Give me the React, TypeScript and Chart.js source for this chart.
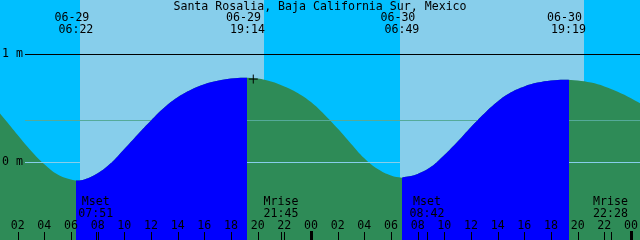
import React, { useEffect, useRef } from 'react';
import { Chart, registerables } from 'chart.js';

Chart.register(...registerables);

const chartTitle = 'Santa Rosalia, Baja California Sur, Mexico';

// tide height (m) at hour from 06-29 00:00
const tideHours = [
  0, 1, 2, 3, 4, 5, 6, 6.5, 7, 8, 9, 10, 11, 12, 13, 14, 15, 16, 17, 18, 19, 20, 21, 22, 23, 24,
  25, 26, 27, 28, 29, 30, 30.8, 31, 32, 33, 34, 35, 36, 37, 38, 39, 40, 41, 42, 43, 44, 45, 46, 47, 48, 49,
];
const tideHeights = [
  0.55, 0.40, 0.25, 0.105, -0.02, -0.115, -0.163, -0.172, -0.163, -0.105, -0.01, 0.12, 0.255, 0.385,
  0.505, 0.60, 0.67, 0.72, 0.752, 0.772, 0.78, 0.772, 0.745, 0.70, 0.64, 0.555,
  0.44, 0.31, 0.17, 0.035, -0.065, -0.125, -0.145, -0.14, -0.11, -0.045, 0.065, 0.19, 0.325, 0.45,
  0.56, 0.645, 0.70, 0.735, 0.755, 0.762, 0.755, 0.735, 0.70, 0.65, 0.59, 0.52,
];

const sunEventHours = [6.367, 19.233, 30.817, 43.317];
const sunEventDates = ['06-29', '06-29', '06-30', '06-30'];
const sunEventTimes = ['06:22', '19:14', '06:49', '19:19'];

// under-curve daylight (flood colour) intervals
const daylightStart = [6.367, 30.817];
const daylightEnd = [19.233, 43.317];

// light sky background intervals
const skyStart = [6.675, 30.675];
const skyEnd = [20.475, 44.475];

const moonEventHours = [7.85, 21.75, 32.7, 46.467];
const moonEventNames = ['Mset', 'Mrise', 'Mset', 'Mrise'];
const moonEventTimes = ['07:51', '21:45', '08:42', '22:28'];

const hourTickHours = [2, 4, 6, 8, 10, 12, 14, 16, 18, 20, 22, 24, 26, 28, 30, 32, 34, 36, 38, 40, 42, 44, 46, 48];
const hourTickLabels = ['02', '04', '06', '08', '10', '12', '14', '16', '18', '20', '22', '00',
  '02', '04', '06', '08', '10', '12', '14', '16', '18', '20', '22', '00'];

const levelValues = [1, 0];
const levelLabels = ['1 m', '0 m'];
const meanLevel = 0.386;

const markerHour = 19.67;
const markerHeight = 0.768;

const FONT = '11.6px "DejaVu Sans Mono", "Liberation Mono", monospace';

export default function App() {
  const ref = useRef<HTMLCanvasElement | null>(null);

  useEffect(() => {
    document.body.style.margin = '0';
    const canvas = ref.current;
    if (!canvas) return;

    const tideData = tideHours.map((h, i) => ({ x: h, y: tideHeights[i] }));

    const bgPlugin = {
      id: 'bgPlugin',
      beforeDraw(chart: any) {
        const { ctx, chartArea, scales } = chart;
        const xs = scales.x;
        ctx.save();
        ctx.fillStyle = '#00BFFF';
        ctx.fillRect(chartArea.left, chartArea.top, chartArea.right - chartArea.left, chartArea.bottom - chartArea.top);
        ctx.fillStyle = '#87CEEB';
        skyStart.forEach((s, i) => {
          const x1 = Math.round(xs.getPixelForValue(s));
          const x2 = Math.round(xs.getPixelForValue(skyEnd[i]));
          ctx.fillRect(x1, chartArea.top, x2 - x1, chartArea.bottom - chartArea.top);
        });
        ctx.restore();
      },
      afterDatasetDraw(chart: any, args: any) {
        if (args.index !== 2) return;
        const { ctx, chartArea, scales } = chart;
        const ys = scales.y;
        ctx.save();
        const drawH = (v: number, color: string) => {
          const y = Math.round(ys.getPixelForValue(v));
          ctx.fillStyle = color;
          ctx.fillRect(25, y, chartArea.right - 25, 1);
        };
        drawH(meanLevel, '#55AA99');
        drawH(levelValues[1], '#87CEEB');
        drawH(levelValues[0], '#000000');
        ctx.restore();
      },
      afterDatasetsDraw(chart: any) {
        const { ctx, chartArea, scales } = chart;
        const xs = scales.x;
        const ys = scales.y;
        ctx.save();
        ctx.font = FONT;
        ctx.fillStyle = '#000';
        ctx.textAlign = 'center';
        ctx.textBaseline = 'middle';
        ctx.fillText(chartTitle, (chartArea.left + chartArea.right) / 2, 6.5);
        sunEventHours.forEach((h, i) => {
          const x = xs.getPixelForValue(h);
          ctx.fillText(sunEventDates[i], x - 4, 17.5);
          ctx.fillText(sunEventTimes[i], x, 29.5);
        });
        ctx.textAlign = 'left';
        levelValues.forEach((v, i) => {
          ctx.fillText(levelLabels[i], 2, ys.getPixelForValue(v));
        });
        ctx.textAlign = 'center';
        moonEventHours.forEach((h, i) => {
          const x = xs.getPixelForValue(h);
          ctx.fillText(moonEventNames[i], x, 202);
          ctx.fillText(moonEventTimes[i], x, 214);
          ctx.fillRect(Math.round(x), 232, 1, 8);
        });
        hourTickHours.forEach((h, i) => {
          const x = xs.getPixelForValue(h);
          ctx.fillText(hourTickLabels[i], x, 226);
          if (h % 24 === 0) {
            ctx.fillRect(Math.round(x) - 1, 231, 3, 9);
          } else {
            ctx.fillRect(Math.round(x), 232, 1, 8);
          }
        });
        ctx.restore();
      },
    };

    const blueFill = (c: any) => {
      const chart = c.chart;
      const { ctx, chartArea, scales } = chart;
      if (!chartArea || !scales.x) return 'rgba(0,0,0,0)';
      const w = chartArea.right - chartArea.left;
      const g = ctx.createLinearGradient(chartArea.left, 0, chartArea.right, 0);
      g.addColorStop(0, 'rgba(0,0,255,0)');
      daylightStart.forEach((s, i) => {
        const f1 = Math.min(1, Math.max(0, (scales.x.getPixelForValue(s) - chartArea.left) / w));
        const f2 = Math.min(1, Math.max(0, (scales.x.getPixelForValue(daylightEnd[i]) - chartArea.left) / w));
        g.addColorStop(f1, 'rgba(0,0,255,0)');
        g.addColorStop(f1, 'rgba(0,0,255,1)');
        g.addColorStop(f2, 'rgba(0,0,255,1)');
        g.addColorStop(f2, 'rgba(0,0,255,0)');
      });
      g.addColorStop(1, 'rgba(0,0,255,0)');
      return g;
    };

    const chart = new Chart(canvas, {
      type: 'line',
      data: {
        datasets: [
          {
            type: 'scatter',
            data: [{ x: markerHour, y: markerHeight }],
            pointStyle: 'cross',
            pointRadius: 4.5,
            borderColor: '#000',
            borderWidth: 1,
            backgroundColor: '#000',
          } as any,
          {
            data: tideData,
            fill: 'start',
            backgroundColor: blueFill,
            borderColor: 'rgba(0,0,0,0)',
            borderWidth: 0,
            pointRadius: 0,
            tension: 0.4,
          },
          {
            data: tideData,
            fill: 'start',
            backgroundColor: '#2E8B57',
            borderColor: 'rgba(0,0,0,0)',
            borderWidth: 0,
            pointRadius: 0,
            tension: 0.4,
          },
        ],
      },
      options: {
        responsive: false,
        animation: false,
        devicePixelRatio: 1,
        layout: { padding: 0, autoPadding: false },
        events: [],
        scales: {
          x: { type: 'linear', display: false, min: 0.675, max: 48.675 },
          y: { type: 'linear', display: false, min: -0.7222, max: 1.5 },
        },
        plugins: {
          legend: { display: false },
          tooltip: { enabled: false },
          title: { display: false },
        },
      },
      plugins: [bgPlugin],
    });

    return () => chart.destroy();
  }, []);

  return (
    <div style={{ width: 640, height: 240 }}>
      <canvas ref={ref} width={640} height={240} style={{ display: 'block', width: 640, height: 240 }} />
    </div>
  );
}
